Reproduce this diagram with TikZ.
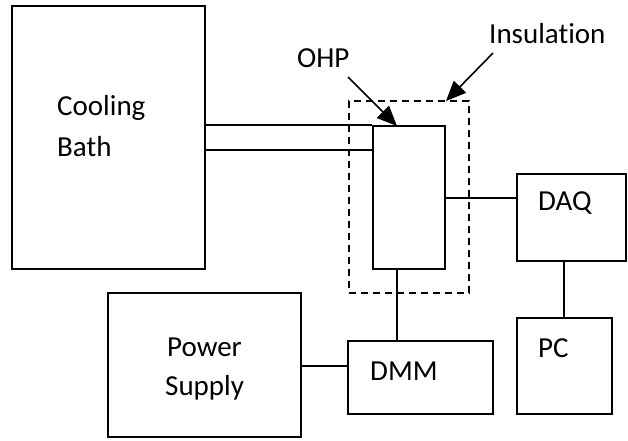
\documentclass[tikz,border=0pt]{standalone}
\usepackage{fontspec}
\setmainfont[Ligatures={NoCommon}]{Carlito}
\usetikzlibrary{fit,arrows.meta}
\begin{document}
\begin{tikzpicture}[x=1pt,y=-1pt,
  box/.style={draw,line width=1.6pt,rectangle,inner sep=0pt},
  insul/.style={draw,line width=1.6pt,dash pattern=on 7pt off 5pt,rectangle,inner sep=0pt},
  wire/.style={line width=1.6pt},
  pointer/.style={line width=1.6pt,-{Triangle[length=20pt,width=17pt]}},
  lbl/.style={anchor=base west,inner sep=0pt,font=\fontsize{29}{40}\selectfont}]
\useasboundingbox (0,0) rectangle (628,440);
% boxes
\node[box,fit={(12,6) (205,269)}] (bath) {};
\node[box,fit={(373,126) (445,269)}] (ohp) {};
\node[insul,fit={(349,101) (469,293)}] (ins) {};
\node[box,fit={(517,174) (626,261)}] (daq) {};
\node[box,fit={(517,318) (612,414)}] (pc) {};
\node[box,fit={(348,341) (493,414)}] (dmm) {};
\node[box,fit={(108,293) (301,437)}] (ps) {};
% labels
\node[lbl] (tcool) at (57,115) {Cooling};
\node[lbl] (tbath) at (57,156) {Bath};
\node[lbl] (tohp) at (297,67) {OHP};
\node[lbl] (tins) at (489,43) {Insulation};
\node[lbl] (tdaq) at (538,210) {DAQ};
\node[lbl] (tpc) at (538,357) {PC};
\node[lbl] (tdmm) at (370,380) {DMM};
\node[lbl] (tpow) at (167,356) {Power};
\node[lbl] (tsup) at (165,395) {Supply};
% arrow tails
\coordinate (ohptail) at (348,77);
\coordinate (ohphead) at (397,126);
\coordinate (instail) at (493,53);
\coordinate (inshead) at (446,101);
% connectors
\draw[wire] (bath.east |- ohp.north) -- (ohp.north west);
\draw[wire] (bath.east |- 0,150) -- (ohp.west |- 0,150);
\draw[wire] (ohp.east |- 0,198) -- (daq.west |- 0,198);
\draw[wire] (daq.south -| 564,0) -- (pc.north -| 564,0);
\draw[wire] (ohp.south -| 397,0) -- (dmm.north -| 397,0);
\draw[wire] (ps.east |- 0,366) -- (dmm.west |- 0,366);
\draw[pointer] (ohptail) -- (ohphead);
\draw[pointer] (instail) -- (inshead);
\end{tikzpicture}
\end{document}
